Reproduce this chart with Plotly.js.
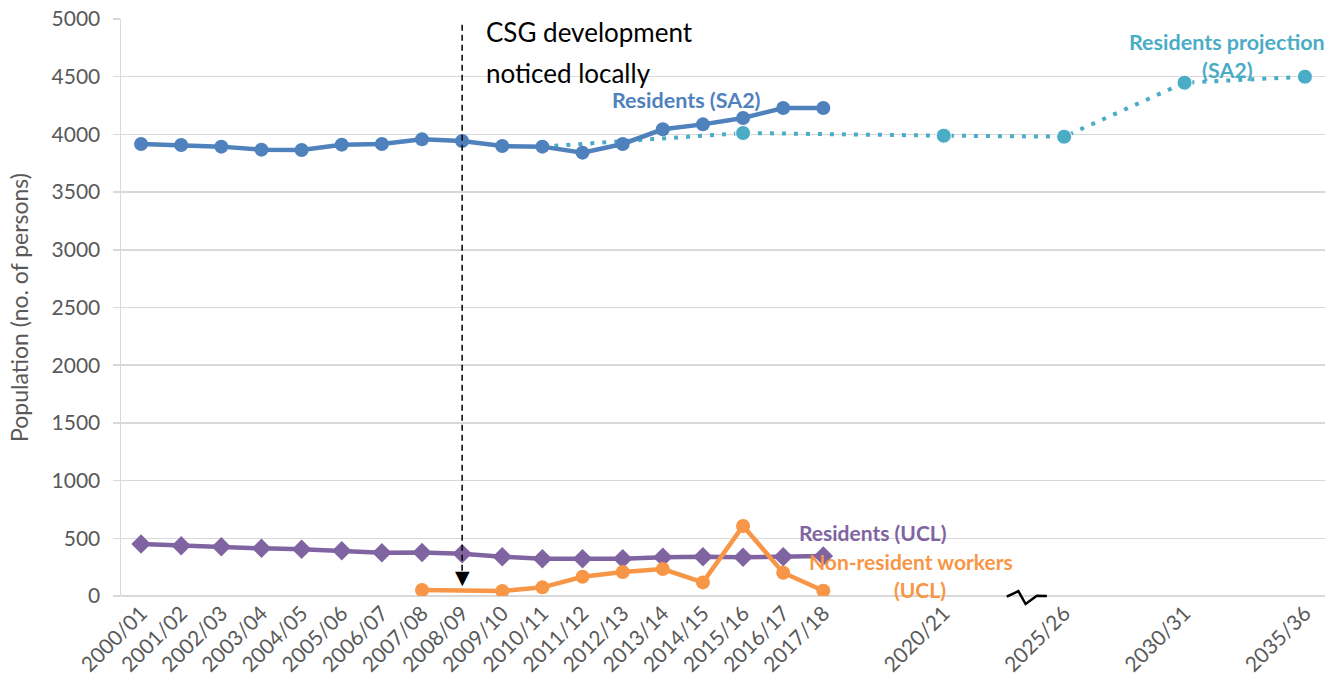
<!DOCTYPE html>
<html>
<head>
<meta charset="utf-8">
<script src="https://cdn.plot.ly/plotly-3.0.1.min.js"></script>
<style>html,body{margin:0;padding:0;background:#fff;}#chart{width:1343px;height:688px;}</style>
</head>
<body>
<div id="chart"></div>
<script>
// Period labels on the x axis (Excel category axis with gaps before the projection years)
const periods = ['2000/01','2001/02','2002/03','2003/04','2004/05','2005/06','2006/07','2007/08','2008/09','2009/10',
  '2010/11','2011/12','2012/13','2013/14','2014/15','2015/16','2016/17','2017/18','2020/21','2025/26','2030/31','2035/36'];
// axis slot of each period
const slots = [0,1,2,3,4,5,6,7,8,9,10,11,12,13,14,15,16,17,20,23,26,29];

const residentsSA2 = [3917,3908,3894,3868,3865,3911,3917,3957,3943,3899,3894,3842,3917,4044,4087,4142,4229,4229,null,null,null,null];
const projectionSA2 = [null,null,null,null,null,null,null,null,null,null,3894,null,null,null,null,4012,null,null,3989,3980,4448,4500];
const residentsUCL = [451,436,427,413,405,393,375,378,367,341,323,323,323,335,341,335,341,347,null,null,null,null];
const nonResidentUCL = [null,null,null,null,null,null,null,52,null,43,75,167,208,234,118,607,202,46,null,null,null,null];

const C_BLUE = '#4f81bd', C_TEAL = '#4bacc6', C_PURPLE = '#8064a2', C_ORANGE = '#f79646';
const FONT = 'Lato, "Open Sans", sans-serif';

const projMarkerSize = projectionSA2.map((v, i) => i === 10 ? 0 : 15);

const traces = [
  {x: slots, y: projectionSA2, mode: 'lines+markers', connectgaps: true, name: 'Residents projection (SA2)',
   line: {color: C_TEAL, width: 4, dash: '4px,8px'}, marker: {color: C_TEAL, size: projMarkerSize, opacity: 1}},
  {x: slots, y: residentsSA2, mode: 'lines+markers', connectgaps: false, name: 'Residents (SA2)',
   line: {color: C_BLUE, width: 4.5}, marker: {color: C_BLUE, size: 14}},
  {x: slots, y: residentsUCL, mode: 'lines+markers', name: 'Residents (UCL)',
   line: {color: C_PURPLE, width: 4.5}, marker: {color: C_PURPLE, size: 15, symbol: 'diamond'}},
  {x: slots, y: nonResidentUCL, mode: 'lines+markers', connectgaps: true, name: 'Non-resident workers (UCL)',
   line: {color: C_ORANGE, width: 4.5}, marker: {color: C_ORANGE, size: 14}}
];

const layout = {
  width: 1343, height: 688,
  margin: {l: 121, r: 18, t: 19, b: 92},
  paper_bgcolor: '#ffffff', plot_bgcolor: '#ffffff',
  showlegend: false,
  font: {family: FONT, color: '#595959'},
  xaxis: {
    range: [-0.5, 29.5], tickmode: 'array', tickvals: slots, ticktext: periods,
    tickangle: -45, tickfont: {size: 21, color: '#595959', family: FONT},
    showgrid: false, zeroline: false, showline: false, ticks: ''
  },
  yaxis: {
    range: [0, 5000], dtick: 500, tick0: 0,
    tickfont: {size: 21, color: '#595959', family: FONT},
    ticklabelstandoff: 8,
    gridcolor: '#d9d9d9', gridwidth: 1.5,
    zeroline: true, zerolinecolor: '#d9d9d9', zerolinewidth: 1.5,
    showline: true, linecolor: '#d9d9d9', linewidth: 1.5,
    ticks: 'outside', ticklen: 7, tickcolor: '#d9d9d9', tickwidth: 1.5,
    title: {text: 'Population (no. of persons)', font: {size: 23, color: '#595959', family: FONT}, standoff: 16}
  },
  shapes: [
    {type: 'line', xref: 'x', yref: 'y', x0: 8, x1: 8, y0: 4950, y1: 200,
     line: {color: '#000000', width: 1.5, dash: '6px,4px'}},
    {type: 'path', xref: 'x', yref: 'paper',
     path: 'M 21.57,-0.0012 L 21.86,0.0085 L 22.04,-0.0139 L 22.32,0.0005 L 22.57,0',
     line: {color: '#000000', width: 2.5}}
  ],
  annotations: [
    {x: 8, y: 165, xref: 'x', yref: 'y', text: '▼', showarrow: false,
     font: {size: 19, color: '#000', family: 'DejaVu Sans'}, xanchor: 'center', yanchor: 'middle'},
    {x: 8.54, y: 4887, xref: 'x', yref: 'y', text: 'CSG development', showarrow: false,
     font: {size: 26, color: '#000', family: FONT}, xanchor: 'left', yanchor: 'middle'},
    {x: 8.54, y: 4532, xref: 'x', yref: 'y', text: 'noticed locally', showarrow: false,
     font: {size: 26, color: '#000', family: FONT}, xanchor: 'left', yanchor: 'middle'},
    {x: 13.6, y: 4298, xref: 'x', yref: 'y', text: '<b>Residents (SA2)</b>', showarrow: false,
     font: {size: 21.5, color: C_BLUE, family: FONT}, xanchor: 'center', yanchor: 'middle'},
    {x: 27.06, y: 4801, xref: 'x', yref: 'y', text: '<b>Residents projection</b>', showarrow: false,
     font: {size: 21.5, color: C_TEAL, family: FONT}, xanchor: 'center', yanchor: 'middle'},
    {x: 27.08, y: 4558, xref: 'x', yref: 'y', text: '<b>(SA2)</b>', showarrow: false,
     font: {size: 21.5, color: C_TEAL, family: FONT}, xanchor: 'center', yanchor: 'middle'},
    {x: 16.35, y: 546, xref: 'x', yref: 'y', text: '<b>Residents (UCL)</b>', showarrow: false,
     font: {size: 21, color: C_PURPLE, family: FONT}, xanchor: 'left', yanchor: 'middle'},
    {x: 16.6, y: 300, xref: 'x', yref: 'y', text: '<b>Non-resident workers</b>', showarrow: false,
     font: {size: 21, color: C_ORANGE, family: FONT}, xanchor: 'left', yanchor: 'middle'},
    {x: 18.7, y: 58, xref: 'x', yref: 'y', text: '<b>(UCL)</b>', showarrow: false,
     font: {size: 21, color: C_ORANGE, family: FONT}, xanchor: 'left', yanchor: 'middle'}
  ]
};

Plotly.newPlot('chart', traces, layout, {displayModeBar: false, staticPlot: true});
</script>
</body>
</html>
